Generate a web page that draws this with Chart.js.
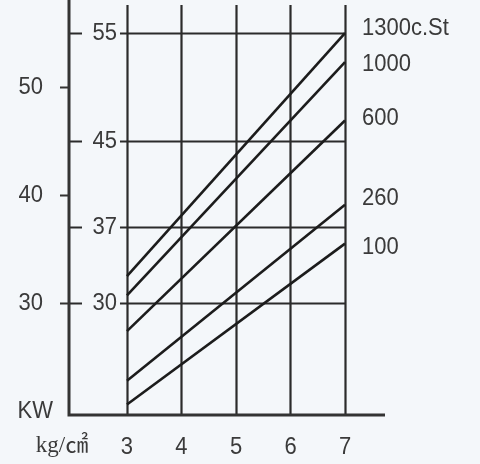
<!DOCTYPE html>
<html>
<head>
<meta charset="utf-8">
<script src="https://cdn.jsdelivr.net/npm/chart.js@4"></script>
<style>
html,body{margin:0;padding:0;background:#f4f7fa;}
#wrap{width:480px;height:464px;}
</style>
</head>
<body>
<div id="wrap"><canvas id="c" width="480" height="464"></canvas></div>
<script>
// ---- data ----
const pressures = [3, 7];                       // kg/㎠ (end points of each line)
const xTicks = [3, 4, 5, 6, 7];
const innerTicks = [55, 45, 37, 30];
const outerTicks = [50, 40, 30];
const seriesNames = ['1300c.St', '1000', '600', '260', '100'];
const kw1300 = [32.5, 55.0];
const kw1000 = [30.7, 52.3];
const kw600  = [27.4, 46.9];
const kw260  = [22.8, 39.1];
const kw100  = [20.6, 35.5];
const xUnit = 'kg/㎠';
const yUnit = 'KW';

// style: vertical nudge (px) of each end label
const labelNudge = [-5, 2, -2, -7, 4];

const seriesValues = [kw1300, kw1000, kw600, kw260, kw100];
const INK = '#2b2b2b';
const TXT = '#3a3a3a';
const FONT = '22px "Liberation Sans", Arial, sans-serif';

const datasets = seriesValues.map((vals, i) => ({
  label: seriesNames[i],
  data: pressures.map((p, j) => ({x: p, y: vals[j]})),
  borderColor: '#1c1c1c',
  borderWidth: 2.6,
  pointRadius: 0,
  tension: 0,
  fill: false
}));

function tallText(ctx, s, px, py) {
  ctx.save();
  ctx.translate(px, py);
  ctx.scale(1, 1.12);
  ctx.fillText(s, 0, 0);
  ctx.restore();
}

const decor = {
  id: 'decor',
  beforeDraw(chart) {
    const ctx = chart.ctx;
    ctx.save();
    ctx.fillStyle = '#f4f7fa';
    ctx.fillRect(0, 0, chart.width, chart.height);
    ctx.restore();
  },
  beforeDatasetsDraw(chart) {
    const {ctx, chartArea: a, scales: {x, y}} = chart;
    ctx.save();
    ctx.strokeStyle = INK;
    ctx.lineWidth = 2;
    innerTicks.forEach(v => {
      const py = Math.round(y.getPixelForValue(v)) + 0.5;
      ctx.beginPath();
      ctx.moveTo(x.getPixelForValue(xTicks[0]) - 7, py);
      ctx.lineTo(x.getPixelForValue(xTicks[xTicks.length - 1]), py);
      ctx.stroke();
      ctx.beginPath();
      ctx.moveTo(a.left, py);
      ctx.lineTo(a.left + 13, py);
      ctx.stroke();
    });
    ctx.lineWidth = 2.2;
    xTicks.forEach(v => {
      const px = Math.round(x.getPixelForValue(v)) + 0.5;
      ctx.beginPath();
      ctx.moveTo(px, a.top + 5);
      ctx.lineTo(px, a.bottom);
      ctx.stroke();
    });
    ctx.restore();
  },
  afterDatasetsDraw(chart) {
    const {ctx, chartArea: a, scales: {x, y}} = chart;
    ctx.save();
    ctx.strokeStyle = '#333';
    ctx.lineWidth = 3;
    ctx.beginPath();
    ctx.moveTo(a.left, a.top);
    ctx.lineTo(a.left, a.bottom);
    ctx.lineTo(a.right, a.bottom);
    ctx.stroke();
    ctx.lineWidth = 2;
    outerTicks.forEach(v => {
      const py = Math.round(y.getPixelForValue(v)) + 0.5;
      ctx.beginPath();
      ctx.moveTo(a.left - 9, py);
      ctx.lineTo(a.left, py);
      ctx.stroke();
    });
    ctx.fillStyle = TXT;
    ctx.font = FONT;
    ctx.textBaseline = 'middle';
    ctx.textAlign = 'right';
    outerTicks.forEach(v => tallText(ctx, String(v), a.left - 26, y.getPixelForValue(v)));
    const xi = x.getPixelForValue(xTicks[0]);
    innerTicks.forEach(v => tallText(ctx, String(v), xi - 10, y.getPixelForValue(v)));
    ctx.textAlign = 'center';
    xTicks.forEach(v => tallText(ctx, String(v), x.getPixelForValue(v), a.bottom + 32));
    ctx.textAlign = 'left';
    const xr = x.getPixelForValue(pressures[pressures.length - 1]);
    seriesValues.forEach((vals, i) => {
      tallText(ctx, seriesNames[i], xr + 17, y.getPixelForValue(vals[vals.length - 1]) + labelNudge[i]);
    });
    ctx.textAlign = 'right';
    tallText(ctx, yUnit, a.left - 16, a.bottom - 4);
    ctx.font = '23px "Liberation Serif", "Noto Sans CJK KR", serif';
    ctx.textAlign = 'center';
    ctx.fillText(xUnit, a.left - 7, a.bottom + 31);
    ctx.restore();
  }
};

new Chart(document.getElementById('c'), {
  type: 'line',
  data: {datasets},
  options: {
    responsive: false,
    animation: false,
    events: [],
    layout: {padding: {left: 69, right: 95, top: 0, bottom: 49}},
    plugins: {legend: {display: false}, tooltip: {enabled: false}},
    scales: {
      x: {type: 'linear', min: 1.936, max: 7.734, display: false},
      y: {type: 'linear', min: 19.63, max: 58.06, display: false}
    }
  },
  plugins: [decor]
});
</script>
</body>
</html>
